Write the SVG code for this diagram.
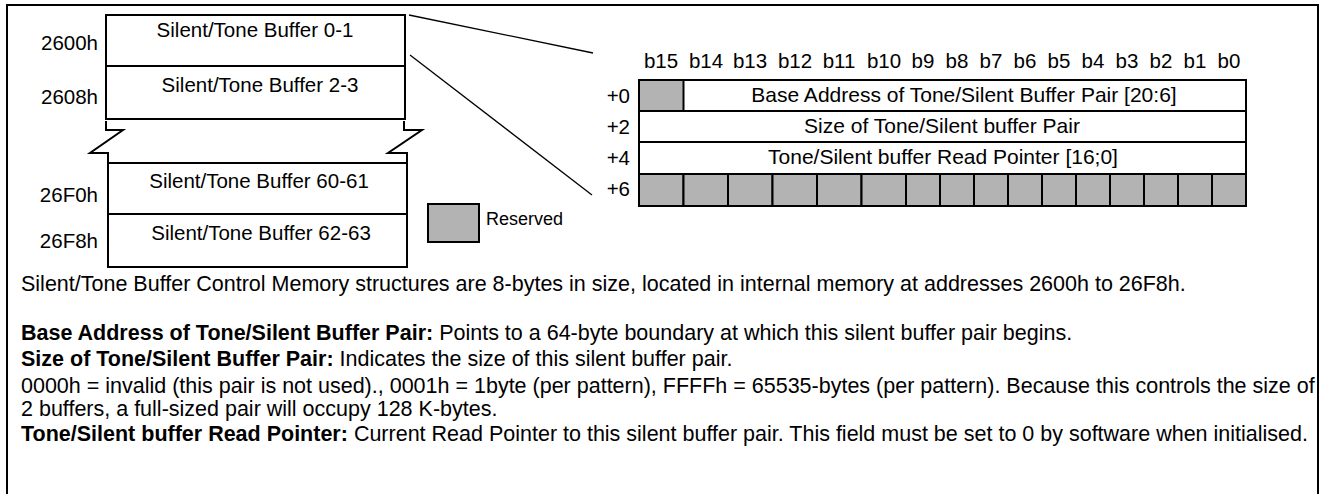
<svg xmlns="http://www.w3.org/2000/svg" width="1323" height="494" viewBox="0 0 1323 494">
<style>
text{font-family:"Liberation Sans",Arial,Helvetica,sans-serif;fill:#000}
.box{fill:#fff;stroke:#000;stroke-width:2}
.gray{fill:#b3b3b3;stroke:#000;stroke-width:2}
.wt{fill:#fff;stroke:#000;stroke-width:2}
.bt{font-size:20.5px;text-anchor:middle}
.addr{font-size:20.5px;text-anchor:end}
.bl{font-size:20.5px;text-anchor:middle}
.rl{font-size:20.5px;text-anchor:end}
.rt{font-size:21px;text-anchor:middle}
.d{font-size:21.5px}
.b{font-weight:bold}
.ln{fill:none;stroke:#000;stroke-width:1.3}
.brk{fill:none;stroke:#000;stroke-width:2}
</style>
<rect width="1323" height="494" fill="#fff"/>
<rect id="frame" x="7" y="5" width="1311" height="500" fill="none" stroke="#000" stroke-width="2"/>

<g id="connectors">
<line class="ln" x1="409" y1="15" x2="593" y2="53"/>
<line class="ln" x1="410" y1="55" x2="592" y2="195"/>
</g>

<g id="buf01">
<rect class="box" x="106" y="15" width="299" height="51"/>
<text class="bt" x="255" y="37">Silent/Tone Buffer 0-1</text>
<text class="addr" x="98" y="50">2600h</text>
</g>
<g id="buf23">
<rect class="box" x="106" y="66" width="299" height="53"/>
<text class="bt" x="260" y="92">Silent/Tone Buffer 2-3</text>
<text class="addr" x="98" y="104">2608h</text>
</g>
<g id="break">
<polyline class="brk" points="106,121 106,130 123,130 90,153 108,153 108,163"/>
<polyline class="brk" points="404,121 404,130 422,130 388,153 407,153 407,163"/>
</g>
<g id="buf6061">
<rect class="box" x="108" y="163" width="299" height="51"/>
<text class="bt" x="259" y="188">Silent/Tone Buffer 60-61</text>
<text class="addr" x="98" y="202">26F0h</text>
</g>
<g id="buf6263">
<rect class="box" x="108" y="214" width="299" height="53"/>
<text class="bt" x="261" y="240">Silent/Tone Buffer 62-63</text>
<text class="addr" x="98" y="248">26F8h</text>
</g>

<g id="legend">
<rect class="gray" x="428" y="204" width="51" height="38"/>
<text x="486" y="225" style="font-size:18px">Reserved</text>
</g>

<g id="register">
<g id="bitlabels">
<text class="bl" x="661" y="68">b15</text>
<text class="bl" x="706" y="68">b14</text>
<text class="bl" x="750" y="68">b13</text>
<text class="bl" x="795" y="68">b12</text>
<text class="bl" x="839" y="68">b11</text>
<text class="bl" x="884" y="68">b10</text>
<text class="bl" x="923" y="68">b9</text>
<text class="bl" x="957" y="68">b8</text>
<text class="bl" x="991" y="68">b7</text>
<text class="bl" x="1025" y="68">b6</text>
<text class="bl" x="1059" y="68">b5</text>
<text class="bl" x="1093" y="68">b4</text>
<text class="bl" x="1127" y="68">b3</text>
<text class="bl" x="1161" y="68">b2</text>
<text class="bl" x="1195" y="68">b1</text>
<text class="bl" x="1229" y="68">b0</text>
</g>
<g id="row0">
<rect class="wt" x="639" y="80" width="607" height="31"/>
<rect class="gray" x="639" y="80" width="44.5" height="31"/>
<text class="rl" x="630" y="103">+0</text>
<text class="rt" x="964" y="102">Base Address of Tone/Silent Buffer Pair [20:6]</text>
</g>
<g id="row2">
<rect class="wt" x="639" y="111" width="607" height="31"/>
<text class="rl" x="630" y="134">+2</text>
<text class="rt" x="942" y="133">Size of Tone/Silent buffer Pair</text>
</g>
<g id="row4">
<rect class="wt" x="639" y="142" width="607" height="32"/>
<text class="rl" x="630" y="165">+4</text>
<text class="rt" x="943" y="164">Tone/Silent buffer Read Pointer [16;0]</text>
</g>
<g id="row6">
<text class="rl" x="630" y="196">+6</text>
<rect class="gray" x="639" y="174" width="44.5" height="32"/>
<rect class="gray" x="683.5" y="174" width="44.5" height="32"/>
<rect class="gray" x="728" y="174" width="44.5" height="32"/>
<rect class="gray" x="772.5" y="174" width="44.5" height="32"/>
<rect class="gray" x="817" y="174" width="44.5" height="32"/>
<rect class="gray" x="861.5" y="174" width="44.5" height="32"/>
<rect class="gray" x="906" y="174" width="34" height="32"/>
<rect class="gray" x="940" y="174" width="34" height="32"/>
<rect class="gray" x="974" y="174" width="34" height="32"/>
<rect class="gray" x="1008" y="174" width="34" height="32"/>
<rect class="gray" x="1042" y="174" width="34" height="32"/>
<rect class="gray" x="1076" y="174" width="34" height="32"/>
<rect class="gray" x="1110" y="174" width="34" height="32"/>
<rect class="gray" x="1144" y="174" width="34" height="32"/>
<rect class="gray" x="1178" y="174" width="34" height="32"/>
<rect class="gray" x="1212" y="174" width="34" height="32"/>
</g>
</g>

<g id="description">
<text class="d" x="21" y="291">Silent/Tone Buffer Control Memory structures are 8-bytes in size, located in internal memory at addresses 2600h to 26F8h.</text>
<text class="d" x="21" y="340"><tspan class="b">Base Address of Tone/Silent Buffer Pair:</tspan> Points to a 64-byte boundary at which this silent buffer pair begins.</text>
<text class="d" x="21" y="366"><tspan class="b">Size of Tone/Silent Buffer Pair:</tspan> Indicates the size of this silent buffer pair.</text>
<text class="d" x="21" y="393">0000h = invalid (this pair is not used)., 0001h = 1byte (per pattern), FFFFh = 65535-bytes (per pattern). Because this controls the size of</text>
<text class="d" x="21" y="416">2 buffers, a full-sized pair will occupy 128 K-bytes.</text>
<text class="d" x="21" y="441"><tspan class="b">Tone/Silent buffer Read Pointer:</tspan> Current Read Pointer to this silent buffer pair. This field must be set to 0 by software when initialised.</text>
</g>
</svg>
